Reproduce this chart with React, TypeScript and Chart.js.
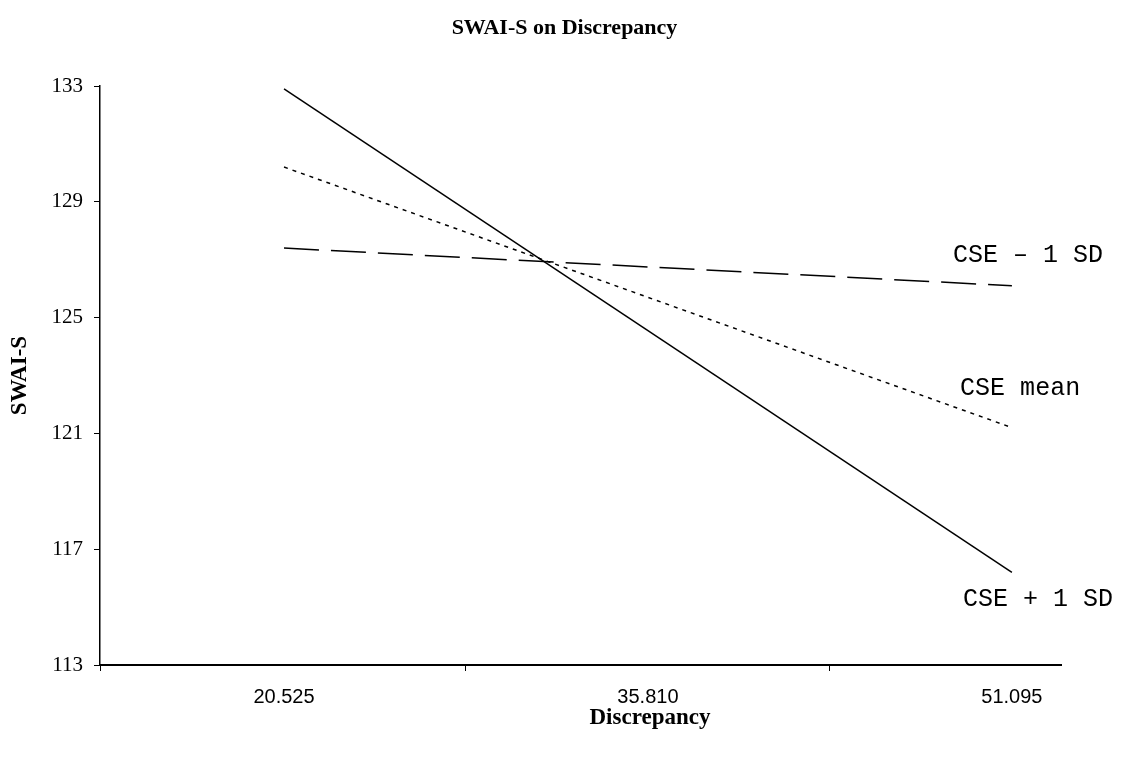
import React, { useEffect, useRef } from "react";
import { Chart, registerables } from "chart.js";

Chart.register(...registerables);

const discrepancy = [20.525, 51.095];
const categoryTicks = [20.525, 35.81, 51.095];
const csePlus1SD = [132.9, 116.2];
const cseMean = [130.2, 121.2];
const cseMinus1SD = [127.4, 126.1];

const lineLabels = ["CSE \u2013 1 SD", "CSE mean", "CSE + 1 SD"];
const lineLabelX = [48.62, 48.92, 49.04];
const lineLabelY = [127.16, 122.57, 115.25];

const xAxisTitle = "Discrepancy";

const X_MIN = 12.797;
const X_MAX = 53.157;

const labelPlugin = {
  id: "lineLabels",
  afterDatasetsDraw(chart: any) {
    const { ctx, scales } = chart;
    ctx.save();
    ctx.fillStyle = "#000";
    ctx.font = "25px 'Liberation Mono', monospace";
    ctx.textAlign = "left";
    ctx.textBaseline = "middle";
    lineLabels.forEach((t, i) => {
      ctx.fillText(t, scales.x.getPixelForValue(lineLabelX[i]), scales.y.getPixelForValue(lineLabelY[i]));
    });
    ctx.font = "bold 23px 'Liberation Serif', serif";
    ctx.textAlign = "center";
    ctx.fillText(xAxisTitle, scales.x.getPixelForValue(categoryTicks[1]) + 2, scales.x.bottom - 41);
    ctx.restore();
  },
};

export default function App() {
  const ref = useRef<HTMLCanvasElement | null>(null);
  useEffect(() => {
    if (!ref.current) return;
    const mk = (ys: number[]) => discrepancy.map((x, i) => ({ x, y: ys[i] }));
    const isCat = (v: number) => categoryTicks.some((c) => Math.abs(c - v) < 1e-6);
    const chart = new Chart(ref.current, {
      type: "line",
      data: {
        datasets: [
          { label: "CSE + 1 SD", data: mk(csePlus1SD), borderColor: "#000", borderWidth: 1.5, pointRadius: 0, fill: false },
          { label: "CSE mean", data: mk(cseMean), borderColor: "#000", borderWidth: 1.5, borderDash: [4, 5], pointRadius: 0, fill: false },
          { label: "CSE - 1 SD", data: mk(cseMinus1SD), borderColor: "#000", borderWidth: 1.5, borderDash: [35, 12], pointRadius: 0, fill: false },
        ],
      },
      options: {
        responsive: false,
        animation: false,
        layout: { padding: 0 },
        plugins: {
          legend: { display: false },
          tooltip: { enabled: false },
          title: {
            display: true,
            text: "SWAI-S on Discrepancy",
            color: "#000",
            font: { family: "'Liberation Serif', serif", size: 22, weight: "bold" },
            padding: { top: 14.8, bottom: 44.8 },
          },
        },
        scales: {
          x: {
            type: "linear",
            min: X_MIN,
            max: X_MAX,
            afterFit(scale: any) {
              scale.height = 94;
            },
            afterBuildTicks(scale: any) {
              const mids = [
                (categoryTicks[0] + categoryTicks[1]) / 2,
                (categoryTicks[1] + categoryTicks[2]) / 2,
              ];
              const vals = [X_MIN, categoryTicks[0], mids[0], categoryTicks[1], mids[1], categoryTicks[2]];
              scale.ticks = vals.map((v) => ({ value: v }));
            },
            ticks: {
              autoSkip: false,
              maxRotation: 0,
              color: "#000",
              padding: 14,
              font: { family: "'Liberation Sans', sans-serif", size: 20 },
              callback: (v: any) => (isCat(Number(v)) ? Number(v).toFixed(3) : ""),
            },
            grid: {
              drawOnChartArea: false,
              tickLength: 6,
              tickColor: (c: any) => (c.tick && isCat(c.tick.value) ? "rgba(0,0,0,0)" : "#000"),
            },
            border: { display: true, color: "#000", width: 2 },
          },
          y: {
            type: "linear",
            min: 113,
            max: 133,
            afterFit(scale: any) {
              scale.width = 100;
            },
            ticks: {
              stepSize: 4,
              color: "#000",
              padding: 11,
              font: { family: "'Liberation Serif', serif", size: 21 },
            },
            grid: { drawOnChartArea: false, tickLength: 6, tickColor: "#000" },
            border: { display: true, color: "#000", width: 1.5 },
            title: {
              display: true,
              text: "SWAI-S",
              color: "#000",
              font: { family: "'Liberation Serif', serif", size: 23, weight: "bold" },
              padding: { top: 6, bottom: 6 },
            },
          },
          yRight: {
            type: "linear",
            position: "right",
            display: true,
            afterFit(scale: any) {
              scale.width = 68;
            },
            ticks: { display: false },
            grid: { display: false },
            border: { display: false },
          },
        },
      },
      plugins: [labelPlugin],
    } as any);
    return () => chart.destroy();
  }, []);
  return (
    <div style={{ position: "fixed", left: 0, top: 0, width: 1129, height: 759, background: "#fff" }}>
      <canvas ref={ref} width={1129} height={759} style={{ display: "block" }} />
    </div>
  );
}
